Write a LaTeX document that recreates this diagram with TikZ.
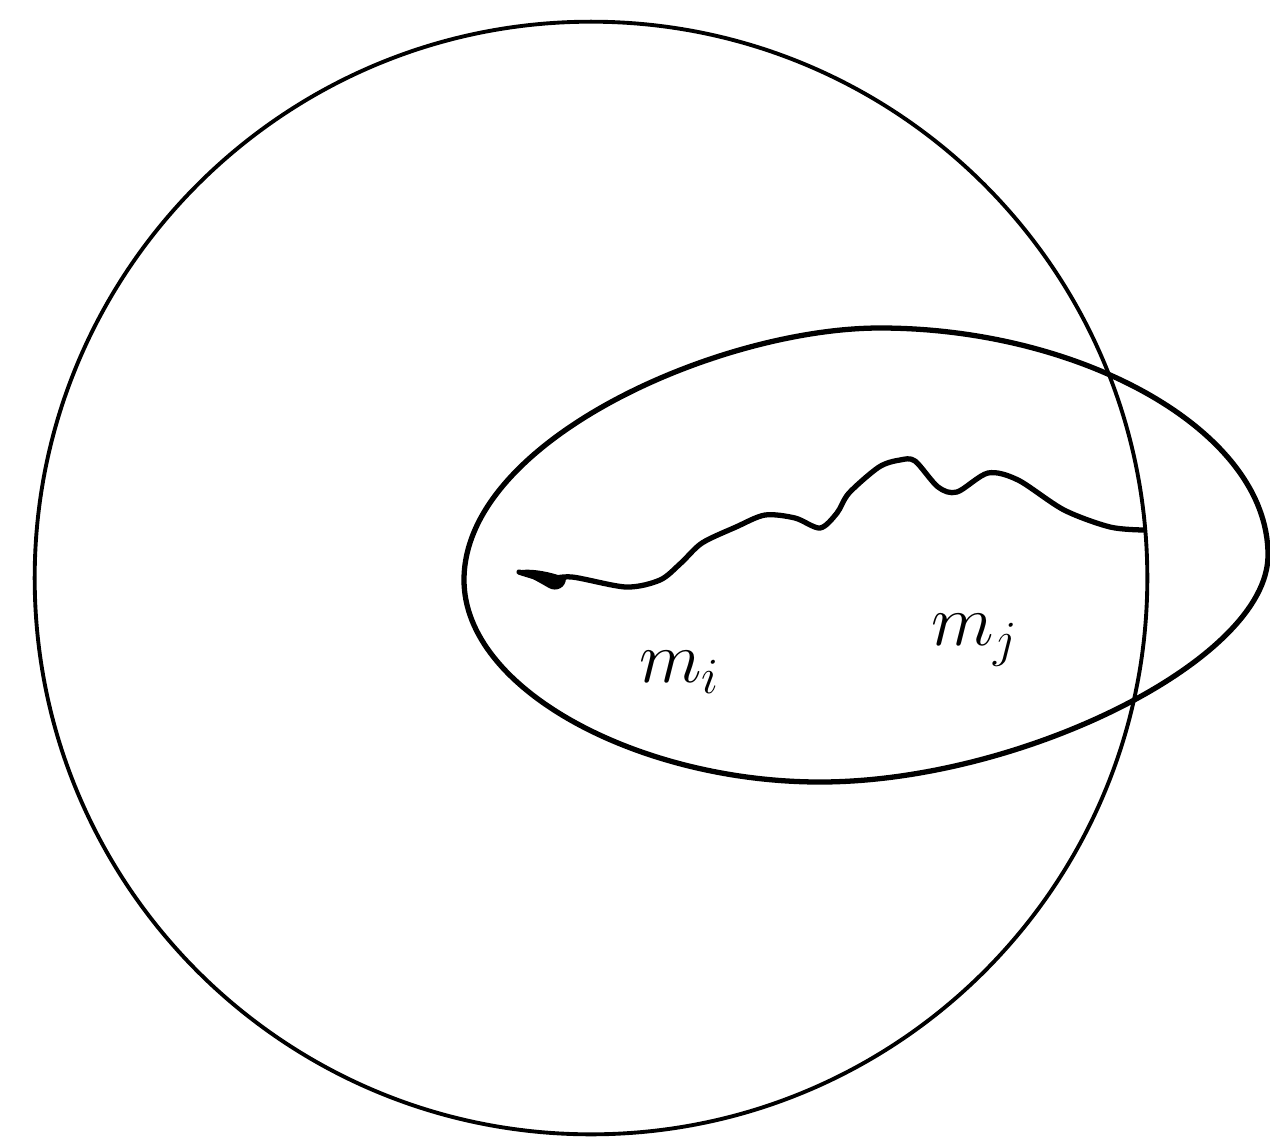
\documentclass[tikz,border=0pt]{standalone}
\begin{document}
\begin{tikzpicture}[x=0.01cm,y=-0.01cm,
  thin line/.style={line width=1.1pt,line join=round,line cap=round},
  thick line/.style={line width=1.5pt,line join=round,line cap=round},
  lbl/.style={inner sep=0pt,font=\fontsize{22}{26}\selectfont}]
\useasboundingbox (0,0) rectangle (1270,1142);
% big circle
\draw[thin line] (591,578) circle [radius=5.56cm];
% egg
\draw[thick line] (464,580) .. controls (464,440) and (720,328) .. (880,328)
  .. controls (1080,328) and (1268,430) .. (1268,555)
  .. controls (1268,660) and (1020,782) .. (820,782)
  .. controls (640,782) and (464,690) .. cycle;
% wavy path
\draw[thick line] plot[smooth,tension=0.5] coordinates {
 (519,572) (545,579) (572,577) (626,587) (660,580) (681,563) (702,543)
 (736,527) (765,515) (795,518) (820,528) (837,513) (849,493) (879,467)
 (900,460) (915,461) (938,487) (957,492) (988,473) (1018,480) (1064,510)
 (1110,527) (1144,530)};
\fill (517,571) .. controls (530,567) and (555,573) .. (566,578)
  .. controls (566,588) and (556,592) .. (549,588) .. controls (535,580) .. cycle;
% labels
\node[lbl] (mi) at (680,672) {$m_i$};
\node[lbl] (mj) at (975,640) {$m_j$};
\end{tikzpicture}
\end{document}
